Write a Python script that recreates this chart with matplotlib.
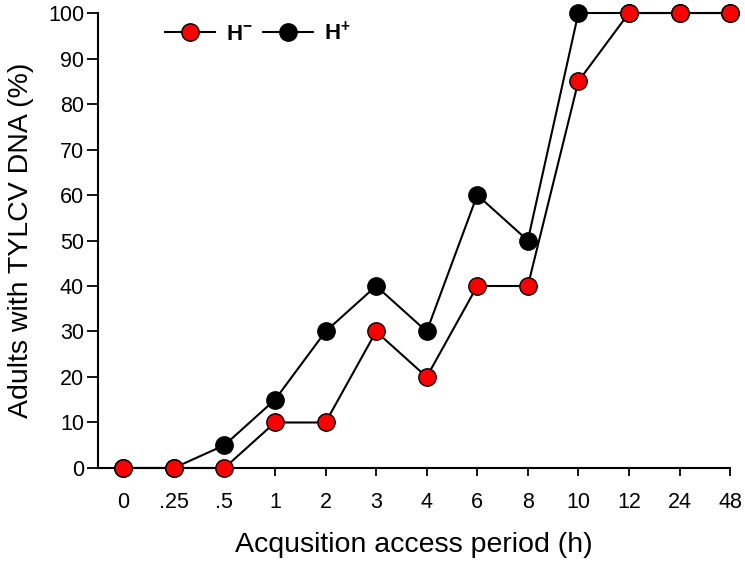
import matplotlib.pyplot as plt
import numpy as np

plt.rcParams['font.family'] = ['Liberation Sans', 'DejaVu Sans']
plt.rcParams['mathtext.fontset'] = 'custom'
plt.rcParams['mathtext.rm'] = 'Liberation Sans'
plt.rcParams['mathtext.bf'] = 'Liberation Sans:bold'

periods = ['0', '.25', '.5', '1', '2', '3', '4', '6', '8', '10', '12', '24', '48']
h_minus = [0, 0, 0, 10, 10, 30, 20, 40, 40, 85, 100, 100, 100]
h_plus = [0, 0, 5, 15, 30, 40, 30, 60, 50, 100, 100, 100, 100]

x = np.arange(len(periods))

fig = plt.figure(figsize=(7.45, 5.61), dpi=100)
ax = fig.add_axes([0.1315, 0.1658, 0.8485, 0.811])

# black series first so red sits on top where they overlap
ax.plot(x, h_plus, color='black', lw=1.5, marker='o', ms=12.5,
        mfc='black', mec='black', mew=1, label=r'$\mathbf{H^{+}}$', zorder=3, clip_on=False)
ax.plot(x, h_minus, color='black', lw=1.5, marker='o', ms=12.5,
        mfc='#ff0000', mec='black', mew=1, label=r'$\mathbf{H^{-}}$', zorder=4, clip_on=False)

ax.set_xlim(-0.5, 12)
ax.set_ylim(0, 100)
ax.set_xticks(x)
ax.set_xticklabels(periods)
ax.set_yticks(range(0, 101, 10))
ax.tick_params(axis='both', labelsize=15.5, width=1.3, direction='out')
ax.tick_params(axis='y', length=8, pad=2)
ax.tick_params(axis='x', length=6, pad=11)
for s in ['top', 'right']:
    ax.spines[s].set_visible(False)
for s in ['left', 'bottom']:
    ax.spines[s].set_linewidth(1.5)

ax.set_xlabel('Acqusition access period (h)', fontsize=20.5, labelpad=14)
ax.set_ylabel('Adults with TYLCV DNA (%)', fontsize=20.5, labelpad=10)

handles, labels = ax.get_legend_handles_labels()
ax.legend(handles[::-1], labels[::-1], ncol=2, frameon=False, fontsize=16,
          loc='center left', bbox_to_anchor=(0.074, 0.955), handlelength=2.25,
          columnspacing=0.45, handletextpad=0.5)

fig.savefig('out.png', dpi=100)
